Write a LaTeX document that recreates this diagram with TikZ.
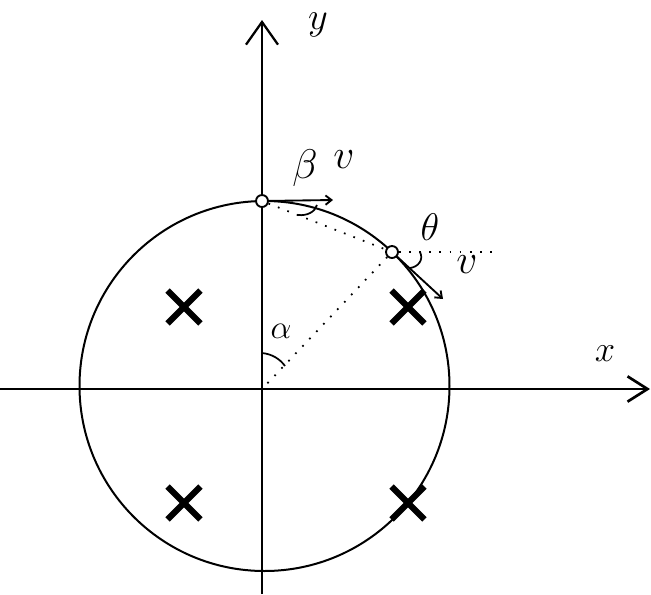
\documentclass[tikz,border=0pt]{standalone}
\usetikzlibrary{arrows.meta,shapes.misc}
\newcommand{\mathlbl}[2][1.16]{\scalebox{#1}{$#2$}}
\tikzset{
  axisx/.style={line width=1.4pt, -{Straight Barb[length=15pt,width=19pt,line width=2pt]}},
  axisy/.style={line width=1.5pt, -{Straight Barb[length=17pt,width=24pt,line width=1.7pt]}},
  speed/.style={line width=1.4pt, -{Straight Barb[length=4.5pt,width=7pt]}},
  guide/.style={line width=1.3pt, dash pattern=on 1.3pt off 6.3pt},
  anglemark/.style={line width=1.3pt},
  charge/.style={cross out, draw, line width=4.6pt, minimum size=20pt, inner sep=0pt},
  point/.style={circle, draw, fill=white, line width=1.4pt, minimum size=9pt, inner sep=0pt},
  lbl/.style={inner sep=0pt, font=\fontsize{24.88}{27}\selectfont}
}
\begin{document}
\begin{tikzpicture}[x=0.75pt,y=-0.75pt]
  \useasboundingbox (0,0) rectangle (651,594);
  % free ends
  \coordinate (xstart) at (0,389);
  \coordinate (xend) at (650,389);
  \coordinate (ystart) at (262,594);
  \coordinate (yend) at (262,20);
  \coordinate (center) at (262,389);
  \coordinate (tipa) at (333,200);
  \coordinate (tipb) at (443,299);
  \coordinate (level) at (497,252);

  \draw[line width=1.5pt] (264.5,386) circle (185);
  \draw[axisx] (xstart) -- (xend);
  \draw[axisy] (ystart) -- (yend);

  \node[point] (top) at (262,201) {};
  \node[point] (side) at (392,252) {};

  \draw[guide] (top) -- (side);
  \draw[guide] (side) -- (level);
  \draw[guide] (side) -- (center);
  \draw[speed] (top) -- (tipa);
  \draw[speed] (side) -- (tipb);

  % angle marks
  \draw[anglemark] (262,353) .. controls (272,354) and (280,359) .. (285,366);
  \draw[anglemark] (317,205) .. controls (315,212) and (307,216) .. (298,215);
  \draw[anglemark] (420,252) .. controls (424,260) and (418,267) .. (410,268);

  \foreach \name/\px/\py in {cha/184/307, chb/408/307, chc/184/503, chd/408/503}
    \node[charge] (\name) at (\px,\py) {};

  \node[lbl] (xlabel) at (605,354) {\mathlbl[1.1]{x}};
  \node[lbl] (ylabel) at (318,25) {\mathlbl{y}};
  \node[lbl] (alabel) at (281,331) {\mathlbl[1]{\alpha}};
  \node[lbl] (blabel) at (305,168) {\mathlbl[1.25]{\beta}};
  \node[lbl] (vlabela) at (344,160) {\mathlbl[1.25]{v}};
  \node[lbl] (tlabel) at (430,227) {\mathlbl{\theta}};
  \node[lbl] (vlabelb) at (467,265) {\mathlbl[1.25]{v}};
\end{tikzpicture}
\end{document}
